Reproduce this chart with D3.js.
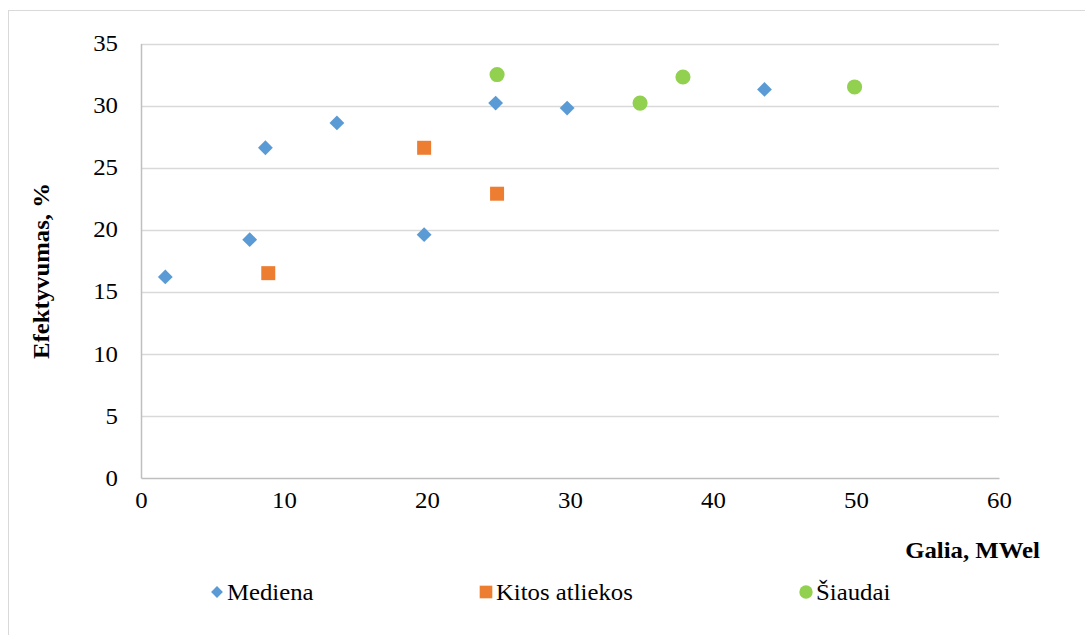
<!DOCTYPE html>
<html>
<head>
<meta charset="utf-8">
<script src="https://cdn.jsdelivr.net/npm/d3@7"></script>
<style>
  html, body { margin: 0; padding: 0; background: #fff; }
  svg { display: block; }
  svg text { font-family: "Liberation Serif", Tinos, "Times New Roman", "DejaVu Serif", serif !important; fill: #000; }
</style>
</head>
<body>
<svg id="chart" width="1085" height="635"></svg>
<script>
// Efficiency vs. electric capacity by fuel type
const medienaX = [1.7, 7.6, 8.7, 13.7, 19.8, 24.8, 29.8, 43.6];
const medienaY = [16.2, 19.2, 26.6, 28.6, 19.6, 30.2, 29.8, 31.3];
const kitosX = [8.9, 19.8, 24.9];
const kitosY = [16.5, 26.6, 22.9];
const siaudaiX = [24.9, 34.9, 37.9, 49.9];
const siaudaiY = [32.5, 30.2, 32.3, 31.5];

const xTicks = [0, 10, 20, 30, 40, 50, 60];
const yTicks = [0, 5, 10, 15, 20, 25, 30, 35];

const seriesNames = ["Mediena", "Kitos atliekos", "Šiaudai"];
const seriesColors = ["#5b9bd5", "#ed7d31", "#92d050"];

const FONT = 22.5;
const svg = d3.select("#chart");

// chart frame
svg.append("rect")
  .attr("x", 8.5).attr("y", 10.5)
  .attr("width", 1090).attr("height", 640)
  .attr("fill", "none").attr("stroke", "#d9d9d9").attr("stroke-width", 1);

const plot = { left: 141, right: 999, top: 43.5, bottom: 478 };

const x = d3.scaleLinear().domain([0, 60]).range([plot.left, plot.right]);
const y = d3.scaleLinear().domain([0, 35]).range([plot.bottom, plot.top]);

// horizontal gridlines
svg.append("g")
  .selectAll("line")
  .data(yTicks.filter(t => t > 0))
  .join("line")
  .attr("x1", plot.left).attr("x2", plot.right)
  .attr("y1", d => Math.round(y(d)) + 0.5).attr("y2", d => Math.round(y(d)) + 0.5)
  .attr("stroke", "#d9d9d9").attr("stroke-width", 1.5);

// y axis
const yAxis = svg.append("g")
  .attr("transform", `translate(${plot.left},0)`)
  .call(d3.axisLeft(y).tickValues(yTicks).tickSize(0).tickPadding(23).tickFormat(d3.format("d")));
yAxis.select(".domain").attr("stroke", "#bfbfbf").attr("stroke-width", 1.5);
yAxis.selectAll("text").attr("font-size", FONT);

// x axis
const xAxis = svg.append("g")
  .attr("transform", `translate(0,${plot.bottom})`)
  .call(d3.axisBottom(x).tickValues(xTicks).tickSize(0).tickPadding(14).tickFormat(d3.format("d")));
xAxis.select(".domain").attr("stroke", "#bfbfbf").attr("stroke-width", 1.5);
xAxis.selectAll("text").attr("font-size", FONT);

// axis titles
svg.append("text")
  .attr("x", 1040).attr("y", 558)
  .attr("text-anchor", "end")
  .attr("font-size", FONT).attr("font-weight", "bold")
  .text("Galia, MWel");

svg.append("text")
  .attr("transform", "translate(49,271) rotate(-90)")
  .attr("text-anchor", "middle")
  .attr("font-size", FONT).attr("font-weight", "bold")
  .text("Efektyvumas, %");

// marker shapes
const diamond = d3.symbol().type(d3.symbolSquare).size(110)();
const square = d3.symbol().type(d3.symbolSquare).size(196)();
const circle = d3.symbol().type(d3.symbolCircle).size(180)();
const shapes = [diamond, square, circle];
const rotations = [45, 0, 0];

const series = [
  d3.zip(medienaX, medienaY),
  d3.zip(kitosX, kitosY),
  d3.zip(siaudaiX, siaudaiY)
];

series.forEach((pts, i) => {
  svg.append("g")
    .selectAll("path")
    .data(pts)
    .join("path")
    .attr("d", shapes[i])
    .attr("transform", d => `translate(${x(d[0])},${y(d[1])}) rotate(${rotations[i]})`)
    .attr("fill", seriesColors[i]);
});

// legend
const legendPos = [217, 486, 806];
const legend = svg.append("g");
seriesNames.forEach((name, i) => {
  const g = legend.append("g").attr("transform", `translate(${legendPos[i]},592)`);
  const sz = [70, 160, 140][i];
  g.append("path")
    .attr("d", d3.symbol().type(i === 2 ? d3.symbolCircle : d3.symbolSquare).size(sz)())
    .attr("transform", `rotate(${rotations[i]})`)
    .attr("fill", seriesColors[i]);
  g.append("text")
    .attr("x", 10).attr("y", 8)
    .attr("font-size", FONT)
    .text(name);
});

// slightly widened lettering
svg.selectAll("text").each(function () {
  const w = this.getComputedTextLength();
  this.setAttribute("textLength", (w * 1.1).toFixed(1));
  this.setAttribute("lengthAdjust", "spacingAndGlyphs");
});
</script>
</body>
</html>
